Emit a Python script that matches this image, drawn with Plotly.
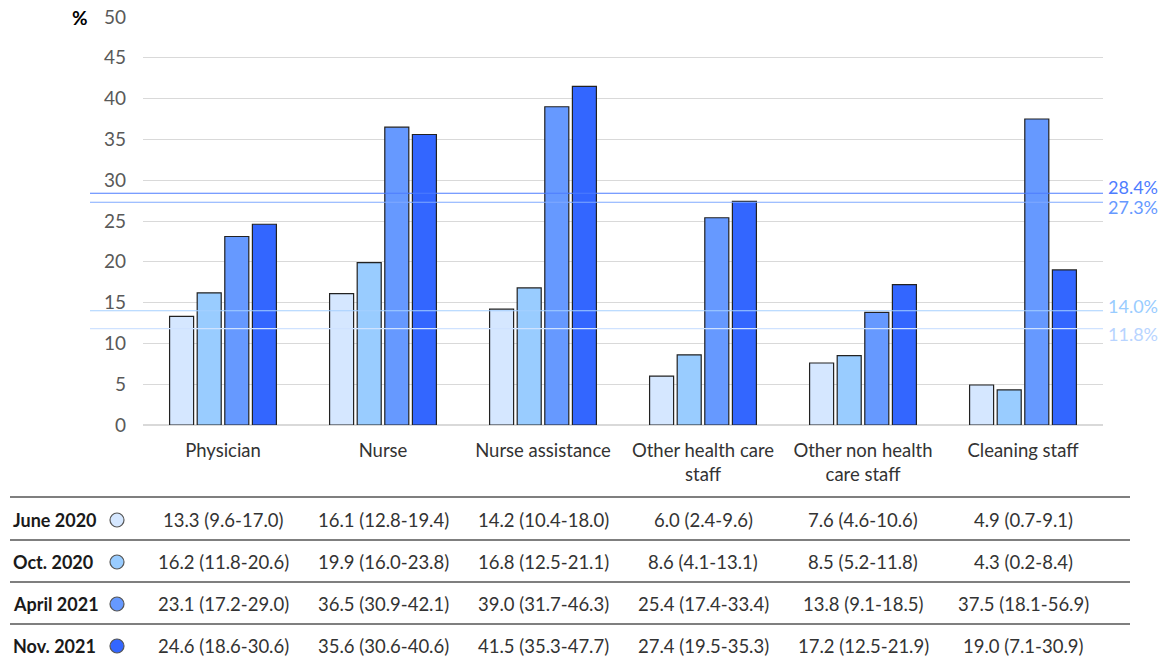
import plotly.graph_objects as go

categories = ["Physician", "Nurse", "Nurse assistance", "Other health care<br>staff",
              "Other non health<br>care staff", "Cleaning staff"]
series_names = ["June 2020", "Oct. 2020", "April 2021", "Nov. 2021"]
june_2020 = [13.3, 16.1, 14.2, 6.0, 7.6, 4.9]
oct_2020 = [16.2, 19.9, 16.8, 8.6, 8.5, 4.3]
april_2021 = [23.1, 36.5, 39.0, 25.4, 13.8, 37.5]
nov_2021 = [24.6, 35.6, 41.5, 27.4, 17.2, 19.0]
june_2020_ci = ["9.6-17.0", "12.8-19.4", "10.4-18.0", "2.4-9.6", "4.6-10.6", "0.7-9.1"]
oct_2020_ci = ["11.8-20.6", "16.0-23.8", "12.5-21.1", "4.1-13.1", "5.2-11.8", "0.2-8.4"]
april_2021_ci = ["17.2-29.0", "30.9-42.1", "31.7-46.3", "17.4-33.4", "9.1-18.5", "18.1-56.9"]
nov_2021_ci = ["18.6-30.6", "30.6-40.6", "35.3-47.7", "19.5-35.3", "12.5-21.9", "7.1-30.9"]
overall_values = [11.8, 14.0, 27.3, 28.4]  # June 2020, Oct 2020, April 2021, Nov 2021

colors = ["#d5e7ff", "#99ccff", "#6699ff", "#3366ff"]
line_colors = ["#cfe2ff", "#a6d0ff", "#80aaff", "#4d7cff"]
label_colors = ["#b8d4ff", "#99ccff", "#6699ff", "#4d7cff"]
label_shift = [-5, 5, -5, 6]
values = [june_2020, oct_2020, april_2021, nov_2021]
cis = [june_2020_ci, oct_2020_ci, april_2021_ci, nov_2021_ci]

FONT = "Lato, Carlito, Calibri, sans-serif"

fig = go.Figure()
for name, vals, col in zip(series_names, values, colors):
    fig.add_trace(go.Bar(x=categories, y=vals, name=name, marker_color=col,
                         marker_line_color="#222222", marker_line_width=1.2))

# geometry (page body margin removed via post_script)
W, H = 1166, 663
L, T = 143, 17
R = W - 1103
B = H - 425
PW = W - L - R
PH = H - T - B


def px_x(x):
    return (x - L) / PW


def px_y(y):
    return (H - B - y) / PH


shapes = []
annotations = []
# overall reference lines
for v, lc in zip(overall_values, line_colors):
    shapes.append(dict(type="line", xref="paper", yref="y", x0=px_x(90), x1=px_x(1103),
                       y0=v, y1=v, line=dict(color=lc, width=1.2), layer="above"))
for v, lcol, sh in zip(overall_values, label_colors, label_shift):
    annotations.append(dict(xref="paper", yref="y", x=px_x(1106), y=v, yshift=sh,
                            text=f"{v:.1f}%", showarrow=False, xanchor="left",
                            yanchor="middle", font=dict(family=FONT, size=18, color=lcol)))

# % label
annotations.append(dict(xref="paper", yref="paper", x=px_x(80), y=px_y(17), text="<b>%</b>",
                        showarrow=False, xanchor="center", yanchor="middle",
                        font=dict(family=FONT, size=19, color="#000000")))

# table
row_y = [520, 562, 604, 646]
sep_y = [497, 540, 582, 624]
for sy in sep_y:
    shapes.append(dict(type="line", xref="paper", yref="paper", x0=px_x(10), x1=px_x(1130),
                       y0=px_y(sy), y1=px_y(sy), line=dict(color="#7f7f7f", width=2)))
for i, (name, vals, ci, col) in enumerate(zip(series_names, values, cis, colors)):
    ry = row_y[i]
    annotations.append(dict(xref="paper", yref="paper", x=px_x(11), y=px_y(ry),
                            text=f"<b>{name}</b>", showarrow=False, xanchor="left", yanchor="middle",
                            font=dict(family=FONT, size=18, color="#1a1a1a")))
    shapes.append(dict(type="circle", xref="paper", yref="paper",
                       x0=px_x(110), x1=px_x(124), y0=px_y(ry + 7), y1=px_y(ry - 7),
                       fillcolor=col, line=dict(color="#555555", width=1.2)))
    for cat, v, c in zip(categories, vals, ci):
        annotations.append(dict(xref="x", yref="paper", x=cat, y=px_y(ry),
                                text=f"{v:.1f} ({c})", showarrow=False, xanchor="center",
                                yanchor="middle", font=dict(family=FONT, size=18.5, color="#333333")))

fig.update_layout(
    width=W, height=H,
    margin=dict(l=L, r=R, t=T, b=B, autoexpand=False),
    plot_bgcolor="white", paper_bgcolor="white",
    barmode="group", bargap=0.31, bargroupgap=0.13,
    showlegend=False,
    font=dict(family=FONT, size=18, color="#404040"),
    shapes=shapes, annotations=annotations,
    xaxis=dict(showgrid=False, showline=False, ticks="", ticklabelstandoff=12,
               tickfont=dict(size=18.5, color="#333333")),
    yaxis=dict(range=[0, 50], dtick=5, showgrid=True, gridcolor="#d9d9d9", gridwidth=1,
               zeroline=True, zerolinecolor="#d9d9d9", showline=False, ticks="",
               ticklabelstandoff=16, tickfont=dict(size=19, color="#595959")),
)

fig.write_html("out.html", config={"displayModeBar": False},
               post_script="document.body.style.margin='0px';document.body.style.overflow='hidden';")
